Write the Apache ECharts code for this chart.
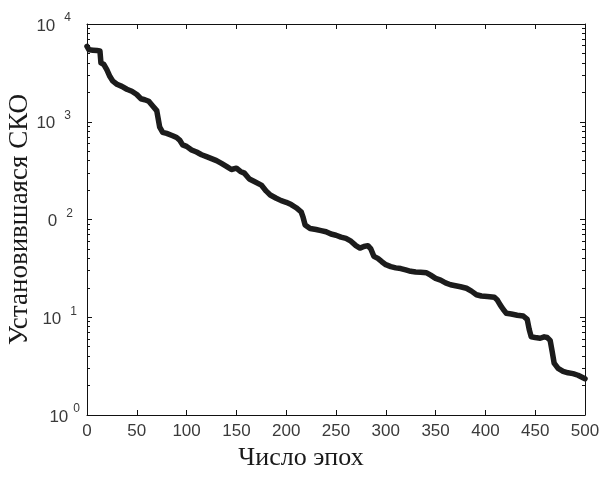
<!DOCTYPE html>
<html><head><meta charset="utf-8">
<script src="https://cdn.jsdelivr.net/npm/echarts@6/dist/echarts.min.js"></script>
<style>html,body{margin:0;padding:0;background:#fff}#c{width:605px;height:477px}</style>
</head><body><div id="c"></div>
<script>
// ---- data ----
const epochs = [0,2,6,10,13,14,17,20,23,26,30,35,40,45,50,54,58,62,66,70,72,73,76,80,86,90,93,96,100,105,110,115,120,125,130,135,140,145,150,154,158,163,168,175,180,184,190,195,200,205,210,215,217,219,224,230,235,240,245,250,255,260,265,270,274,278,282,285,288,292,296,300,305,310,315,320,325,330,335,341,345,350,355,360,365,370,375,381,386,391,396,402,409,412,415,418,421,426,432,438,442,444,446,450,455,459,462,465,467,469,473,478,483,488,493,500];
const sko = [5900,5450,5400,5350,5300,4000,3850,3400,2900,2600,2420,2300,2150,2050,1900,1720,1680,1620,1450,1300,1250,880,780,760,720,690,650,580,560,515,490,460,440,420,400,375,350,325,335,310,298,260,245,225,195,178,165,156,150,142,132,120,105,88,81,79,77,75,71,69,66,64,60,54,51,53,54,50,42,40,37,34.5,33,32,31.5,30.5,29.5,29,28.8,28.5,27,25,24,22.5,21.5,21,20.5,19.8,18.5,17,16.5,16.3,16,15,13.3,12,11,10.8,10.5,10.3,9.5,7.5,6.3,6.2,6.1,6.3,6.2,5.8,4.5,3.4,3.0,2.8,2.7,2.65,2.55,2.35];
const xTickValues = [0,50,100,150,200,250,300,350,400,450,500];
const yMajor = [1,10,100,1000,10000];
const yMinor = [2,3,4,5,6,7,8,9,20,30,40,50,60,70,80,90,200,300,400,500,600,700,800,900,2000,3000,4000,5000,6000,7000,8000,9000];
const yLabelBase = ['10','10','0','10','10'];
const yLabelExp = ['0','1','2','3','4'];
const xName = 'Число эпох';
const yName = 'Установившаяся СКО';

// ---- styles ----
const expGap = [5,9,9,9,9];
const expRight = [0,3,7,9,9];
const labelColor = '#3a3a3a';
const axisColor = '#111';
const rich = { b: { fontSize: 17, fontFamily: 'Liberation Sans', color: labelColor, padding: [4,0,0,0] } };
for (let k = 0; k < 5; k++) {
  rich['e' + k] = { fontSize: 12, fontFamily: 'Liberation Sans', color: labelColor, padding: [0, expRight[k], 12, expGap[k]] };
}

function logAxis(pos, ticks, len, showLine, withLabel) {
  const ax = {
    type: 'log', logBase: 10, min: 1, max: 10000, position: pos, gridIndex: 0,
    axisLine: { show: showLine, lineStyle: { color: axisColor, width: 1 } },
    axisTick: { show: true, inside: true, length: len, customValues: ticks, lineStyle: { color: axisColor, width: 1 } },
    axisLabel: { show: false },
    splitLine: { show: false }, minorTick: { show: false }
  };
  if (withLabel) {
    ax.axisLabel = {
      show: true, customValues: yMajor, margin: 7,
      formatter: function (v) {
        const k = Math.round(Math.log10(v));
        return '{b|' + yLabelBase[k] + '}{e' + k + '|' + yLabelExp[k] + '}';
      },
      rich: rich
    };
    ax.name = yName;
    ax.nameLocation = 'middle';
    ax.nameGap = 54;
    ax.nameMoveOverlap = false;
    ax.nameTextStyle = { fontFamily: 'Liberation Serif', fontSize: 27, color: '#1a1a1a' };
  }
  return ax;
}

const chart = echarts.init(document.getElementById('c'), null, { renderer: 'canvas' });
chart.setOption({
  animation: false,
  backgroundColor: '#fff',
  grid: { left: 87, right: 20, top: 24, bottom: 62, containLabel: false, outerBoundsMode: 'none' },
  xAxis: [
    {
      type: 'value', min: 0, max: 500, interval: 50, position: 'bottom',
      axisLine: { show: true, onZero: false, lineStyle: { color: axisColor, width: 1 } },
      axisTick: { show: true, inside: true, length: 5, lineStyle: { color: axisColor } },
      axisLabel: { show: true, margin: 8, fontSize: 17, fontFamily: 'Liberation Sans', color: labelColor, customValues: xTickValues },
      splitLine: { show: false },
      name: xName, nameLocation: 'middle', nameGap: 30, nameMoveOverlap: false,
      nameTextStyle: { fontFamily: 'Liberation Serif', fontSize: 26, color: '#1a1a1a', padding: [0, 70, 0, 0] }
    },
    {
      type: 'value', min: 0, max: 500, interval: 50, position: 'top',
      axisLine: { show: true, onZero: false, lineStyle: { color: axisColor, width: 1 } },
      axisTick: { show: true, inside: true, length: 5, lineStyle: { color: axisColor } },
      axisLabel: { show: false }, splitLine: { show: false }
    }
  ],
  yAxis: [
    logAxis('left', yMajor, 5, true, true),
    logAxis('left', yMinor, 3, false, false),
    logAxis('right', yMajor, 5, true, false),
    logAxis('right', yMinor, 3, false, false)
  ],
  series: [{
    type: 'line', xAxisIndex: 0, yAxisIndex: 0,
    data: epochs.map((e, i) => [e, sko[i]]),
    showSymbol: false, symbol: 'none', smooth: false,
    lineStyle: { color: '#1c1c1c', width: 5.5, join: 'round', cap: 'round' }
  }]
});
</script></body></html>
